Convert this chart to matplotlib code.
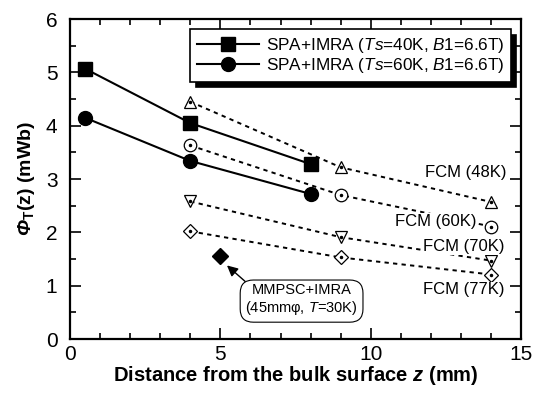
import matplotlib
matplotlib.use('Agg')
import matplotlib.pyplot as plt
from matplotlib.ticker import MultipleLocator

plt.rcParams['font.family'] = ['Liberation Sans', 'DejaVu Sans']
plt.rcParams['mathtext.fontset'] = 'custom'
plt.rcParams['mathtext.rm'] = 'Liberation Sans'
plt.rcParams['mathtext.it'] = 'Liberation Sans:italic'
plt.rcParams['mathtext.bf'] = 'Liberation Sans:bold'
plt.rcParams['mathtext.bfit'] = 'Liberation Sans:bold:italic'

# SPA+IMRA calculations
z_spa = [0.5, 4, 8]
spa_40k = [5.07, 4.05, 3.28]
spa_60k = [4.15, 3.34, 2.72]

# FCM measurements
z_fcm = [4, 9, 14]
fcm_48k = [4.45, 3.22, 2.57]
fcm_60k = [3.63, 2.70, 2.11]
fcm_70k = [2.58, 1.91, 1.47]
fcm_77k = [2.02, 1.53, 1.21]

# MMPSC+IMRA point
z_mm = [5]
mm_30k = [1.55]

fcm_labels = ['FCM (48K)', 'FCM (60K)', 'FCM (70K)', 'FCM (77K)']

fig = plt.figure(figsize=(5.34, 3.97), dpi=100)
ax = fig.add_axes([0.131, 0.146, 0.845, 0.806])

ax.plot(z_spa, spa_40k, '-', color='k', lw=1.5, marker='s', ms=10, mfc='k', mec='k',
        label=r'SPA+IMRA ($\mathit{Ts}$=40K, $\mathit{B1}$=6.6T)', zorder=4)
ax.plot(z_spa, spa_60k, '-', color='k', lw=1.5, marker='o', ms=10, mfc='k', mec='k',
        label=r'SPA+IMRA ($\mathit{Ts}$=60K, $\mathit{B1}$=6.6T)', zorder=4)

dots = (0, (2.2, 2.2))
ax.plot(z_fcm, fcm_48k, color='k', lw=1.4, ls=dots, marker='^', ms=9, mfc='white', mec='k', mew=0.9, zorder=3)
ax.plot(z_fcm, fcm_60k, color='k', lw=1.4, ls=dots, marker='o', ms=9, mfc='white', mec='k', mew=0.9, zorder=3)
ax.plot(z_fcm, fcm_70k, color='k', lw=1.4, ls=dots, marker='v', ms=9, mfc='white', mec='k', mew=0.9, zorder=3)
ax.plot(z_fcm, fcm_77k, color='k', lw=1.4, ls=dots, marker='D', ms=7.5, mfc='white', mec='k', mew=0.9, zorder=3)
for vals in [fcm_48k, fcm_60k, fcm_70k, fcm_77k]:
    ax.plot(z_fcm, vals, ls='none', marker='o', ms=1.5, color='k', zorder=5)

ax.plot(z_mm, mm_30k, ls='none', marker='D', ms=8, color='k', zorder=4)

# FCM labels (white background hides the dotted lines behind them)
lab_box = dict(boxstyle='square,pad=0.05', fc='white', ec='none')
ax.text(14.5, 3.13, fcm_labels[0], ha='right', va='center', fontsize=12, bbox=lab_box, zorder=3.5)
ax.text(13.5, 2.21, fcm_labels[1], ha='right', va='center', fontsize=12, bbox=lab_box, zorder=3.5)
ax.text(14.45, 1.73, fcm_labels[2], ha='right', va='center', fontsize=12, bbox=lab_box, zorder=3.5)
ax.text(14.45, 0.92, fcm_labels[3], ha='right', va='center', fontsize=12, bbox=lab_box, zorder=3.5)

ax.annotate('MMPSC+IMRA\n(45mm\u03c6, $\\mathit{T}$=30K)', xy=(5.22, 1.38), xytext=(7.7, 0.73),
            ha='center', va='center', fontsize=10.5, linespacing=1.15,
            bbox=dict(boxstyle='round,pad=0.35,rounding_size=0.9', fc='white', ec='k', lw=0.8),
            arrowprops=dict(arrowstyle='-|>', color='k', lw=1.0, mutation_scale=16,
                            shrinkA=0, shrinkB=0, relpos=(0.05, 0.9)))

ax.set_xlim(0, 15)
ax.set_ylim(0, 6)
ax.xaxis.set_major_locator(MultipleLocator(5))
ax.xaxis.set_minor_locator(MultipleLocator(1))
ax.yaxis.set_major_locator(MultipleLocator(1))
ax.yaxis.set_minor_locator(MultipleLocator(0.5))
ax.tick_params(which='both', direction='in', top=True, right=True, width=1.2, labelsize=15)
ax.tick_params(which='major', length=8, pad=4)
ax.tick_params(which='minor', length=4.5)
ax.tick_params(axis='y', which='major', pad=9)
for s in ax.spines.values():
    s.set_linewidth(1.6)

ax.set_xlabel(r'Distance from the bulk surface $\mathbfit{z}$ (mm)', fontsize=14.5, fontweight='bold', labelpad=0)
ax.set_ylabel(r'$\mathbfit{\Phi}_{\mathbf{T}}$(z) (mWb)', fontsize=14, fontweight='bold', labelpad=6)

leg = ax.legend(loc='upper right', fontsize=12.3, handlelength=3.6, handletextpad=0.4,
                labelspacing=0.05, borderaxespad=0.6, borderpad=0.4, fancybox=False,
                shadow={'ox': 4, 'oy': -4, 'color': 'k', 'alpha': 1}, framealpha=1)
leg.get_frame().set_edgecolor('k')
leg.get_frame().set_linewidth(1.2)

fig.savefig('out.png', dpi=100)
